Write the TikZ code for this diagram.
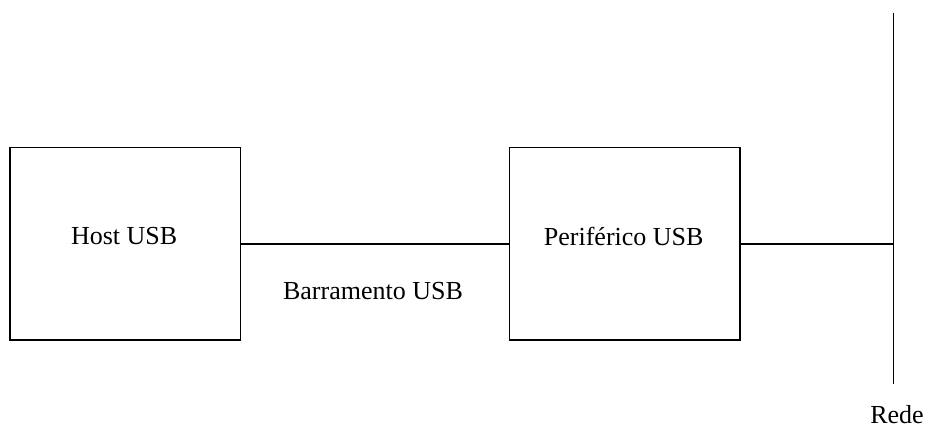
\documentclass[tikz,border=0pt]{standalone}
\usepackage{fontspec}
\setmainfont{Liberation Serif}
\begin{document}
\begin{tikzpicture}[x=1pt,y=-1pt,
  box/.style={draw, line width=1.6pt, minimum width=230.5pt, minimum height=192.7pt, inner sep=0pt},
  lbl/.style={font=\fontsize{26}{30}\selectfont, inner sep=0pt, anchor=base},
  wire/.style={line width=1.6pt}]
  \useasboundingbox (0,0) rectangle (925,428);
  % the two devices
  \node[box] (host) at (125.3,243.7) {};
  \node[box] (peri) at (624.7,243.7) {};
  \node[lbl] (hostlbl) at (124.2,244.3) {Host USB};
  \node[lbl] (perilbl) at (623.7,245) {Periférico USB};
  % network backbone
  \coordinate (redetop) at (893.3,13);
  \coordinate (redebot) at (893.3,383.5);
  \coordinate (tap) at (893.3,243.7);
  \draw[wire] (redetop) -- (redebot);
  % connections
  \draw[wire] (host.east) -- (peri.west);
  \draw[wire] (peri.east) -- (tap);
  \node[lbl] (bus) at (373,299) {Barramento USB};
  \node[lbl] (rede) at (897,423) {Rede};
\end{tikzpicture}
\end{document}
